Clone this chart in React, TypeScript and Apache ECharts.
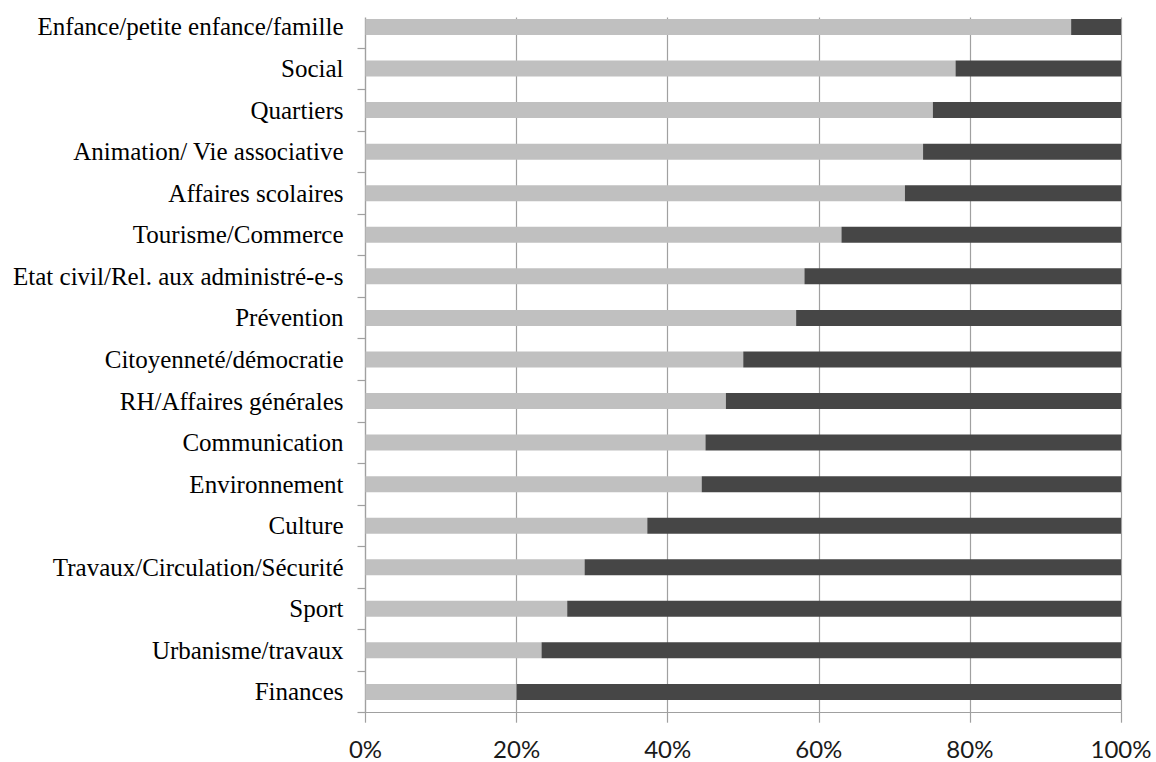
import React, { useEffect, useRef } from "react";
import * as echarts from "echarts";

const categories = [
  "Enfance/petite enfance/famille",
  "Social",
  "Quartiers",
  "Animation/ Vie associative",
  "Affaires scolaires",
  "Tourisme/Commerce",
  "Etat civil/Rel. aux administré-e-s",
  "Prévention",
  "Citoyenneté/démocratie",
  "RH/Affaires générales",
  "Communication",
  "Environnement",
  "Culture",
  "Travaux/Circulation/Sécurité",
  "Sport",
  "Urbanisme/travaux",
  "Finances",
];

const lightValues = [93.4, 78.1, 75.1, 73.8, 71.4, 63.0, 58.1, 57.0, 50.0, 47.7, 45.0, 44.5, 37.3, 29.0, 26.7, 23.3, 20.0];
const darkValues = [6.6, 21.9, 24.9, 26.2, 28.6, 37.0, 41.9, 43.0, 50.0, 52.3, 55.0, 55.5, 62.7, 71.0, 73.3, 76.7, 80.0];

const xTicks = [0, 20, 40, 60, 80, 100];

export default function App() {
  const ref = useRef<HTMLDivElement>(null);
  useEffect(() => {
    document.body.style.margin = "0";
    const chart = echarts.init(ref.current!, null, { renderer: "svg" });
    const gridLeft = 365.5;
    const gridRight = 35;
    const gridTop = 6.2;
    const gridBottom = 49.3;
    chart.setOption({
      animation: false,
      backgroundColor: "#ffffff",
      grid: { left: gridLeft, right: gridRight, top: gridTop, bottom: gridBottom, containLabel: false },
      xAxis: {
        type: "value",
        min: xTicks[0],
        max: xTicks[xTicks.length - 1],
        interval: 20,
        axisLine: { show: true, lineStyle: { color: "#a0a0a0", width: 1.2 } },
        axisTick: { show: true, length: 10, lineStyle: { color: "#a0a0a0", width: 1.2 } },
        splitLine: { show: true, lineStyle: { color: "#a0a0a0", width: 1.2 } },
        axisLabel: {
          formatter: "{value}%",
          margin: 24,
          fontFamily: "Lato",
          fontSize: 24,
          lineHeight: 24,
          color: "#1a1a1a",
        },
      },
      yAxis: {
        type: "category",
        data: categories,
        inverse: true,
        axisLine: { show: true, lineStyle: { color: "#a0a0a0", width: 1.2 } },
        axisTick: { show: true, length: 8, lineStyle: { color: "#a0a0a0", width: 1.2 } },
        splitLine: { show: false },
        axisLabel: {
          margin: 22,
          fontFamily: "Liberation Serif",
          fontSize: 25,
          color: "#000000",
        },
      },
      series: [
        {
          type: "bar",
          stack: "total",
          data: lightValues,
          barWidth: 16,
          itemStyle: { color: "#c0c0c0" },
        },
        {
          type: "bar",
          stack: "total",
          data: darkValues,
          barWidth: 16,
          itemStyle: { color: "#464646" },
        },
      ],
      graphic: [
        {
          type: "rect",
          z: 100,
          shape: { x: 350, y: 0, width: 780, height: 17.5 },
          style: { fill: "#ffffff" },
        },
      ],
    });
    return () => chart.dispose();
  }, []);
  return <div ref={ref} style={{ width: 1156, height: 762 }} />;
}
